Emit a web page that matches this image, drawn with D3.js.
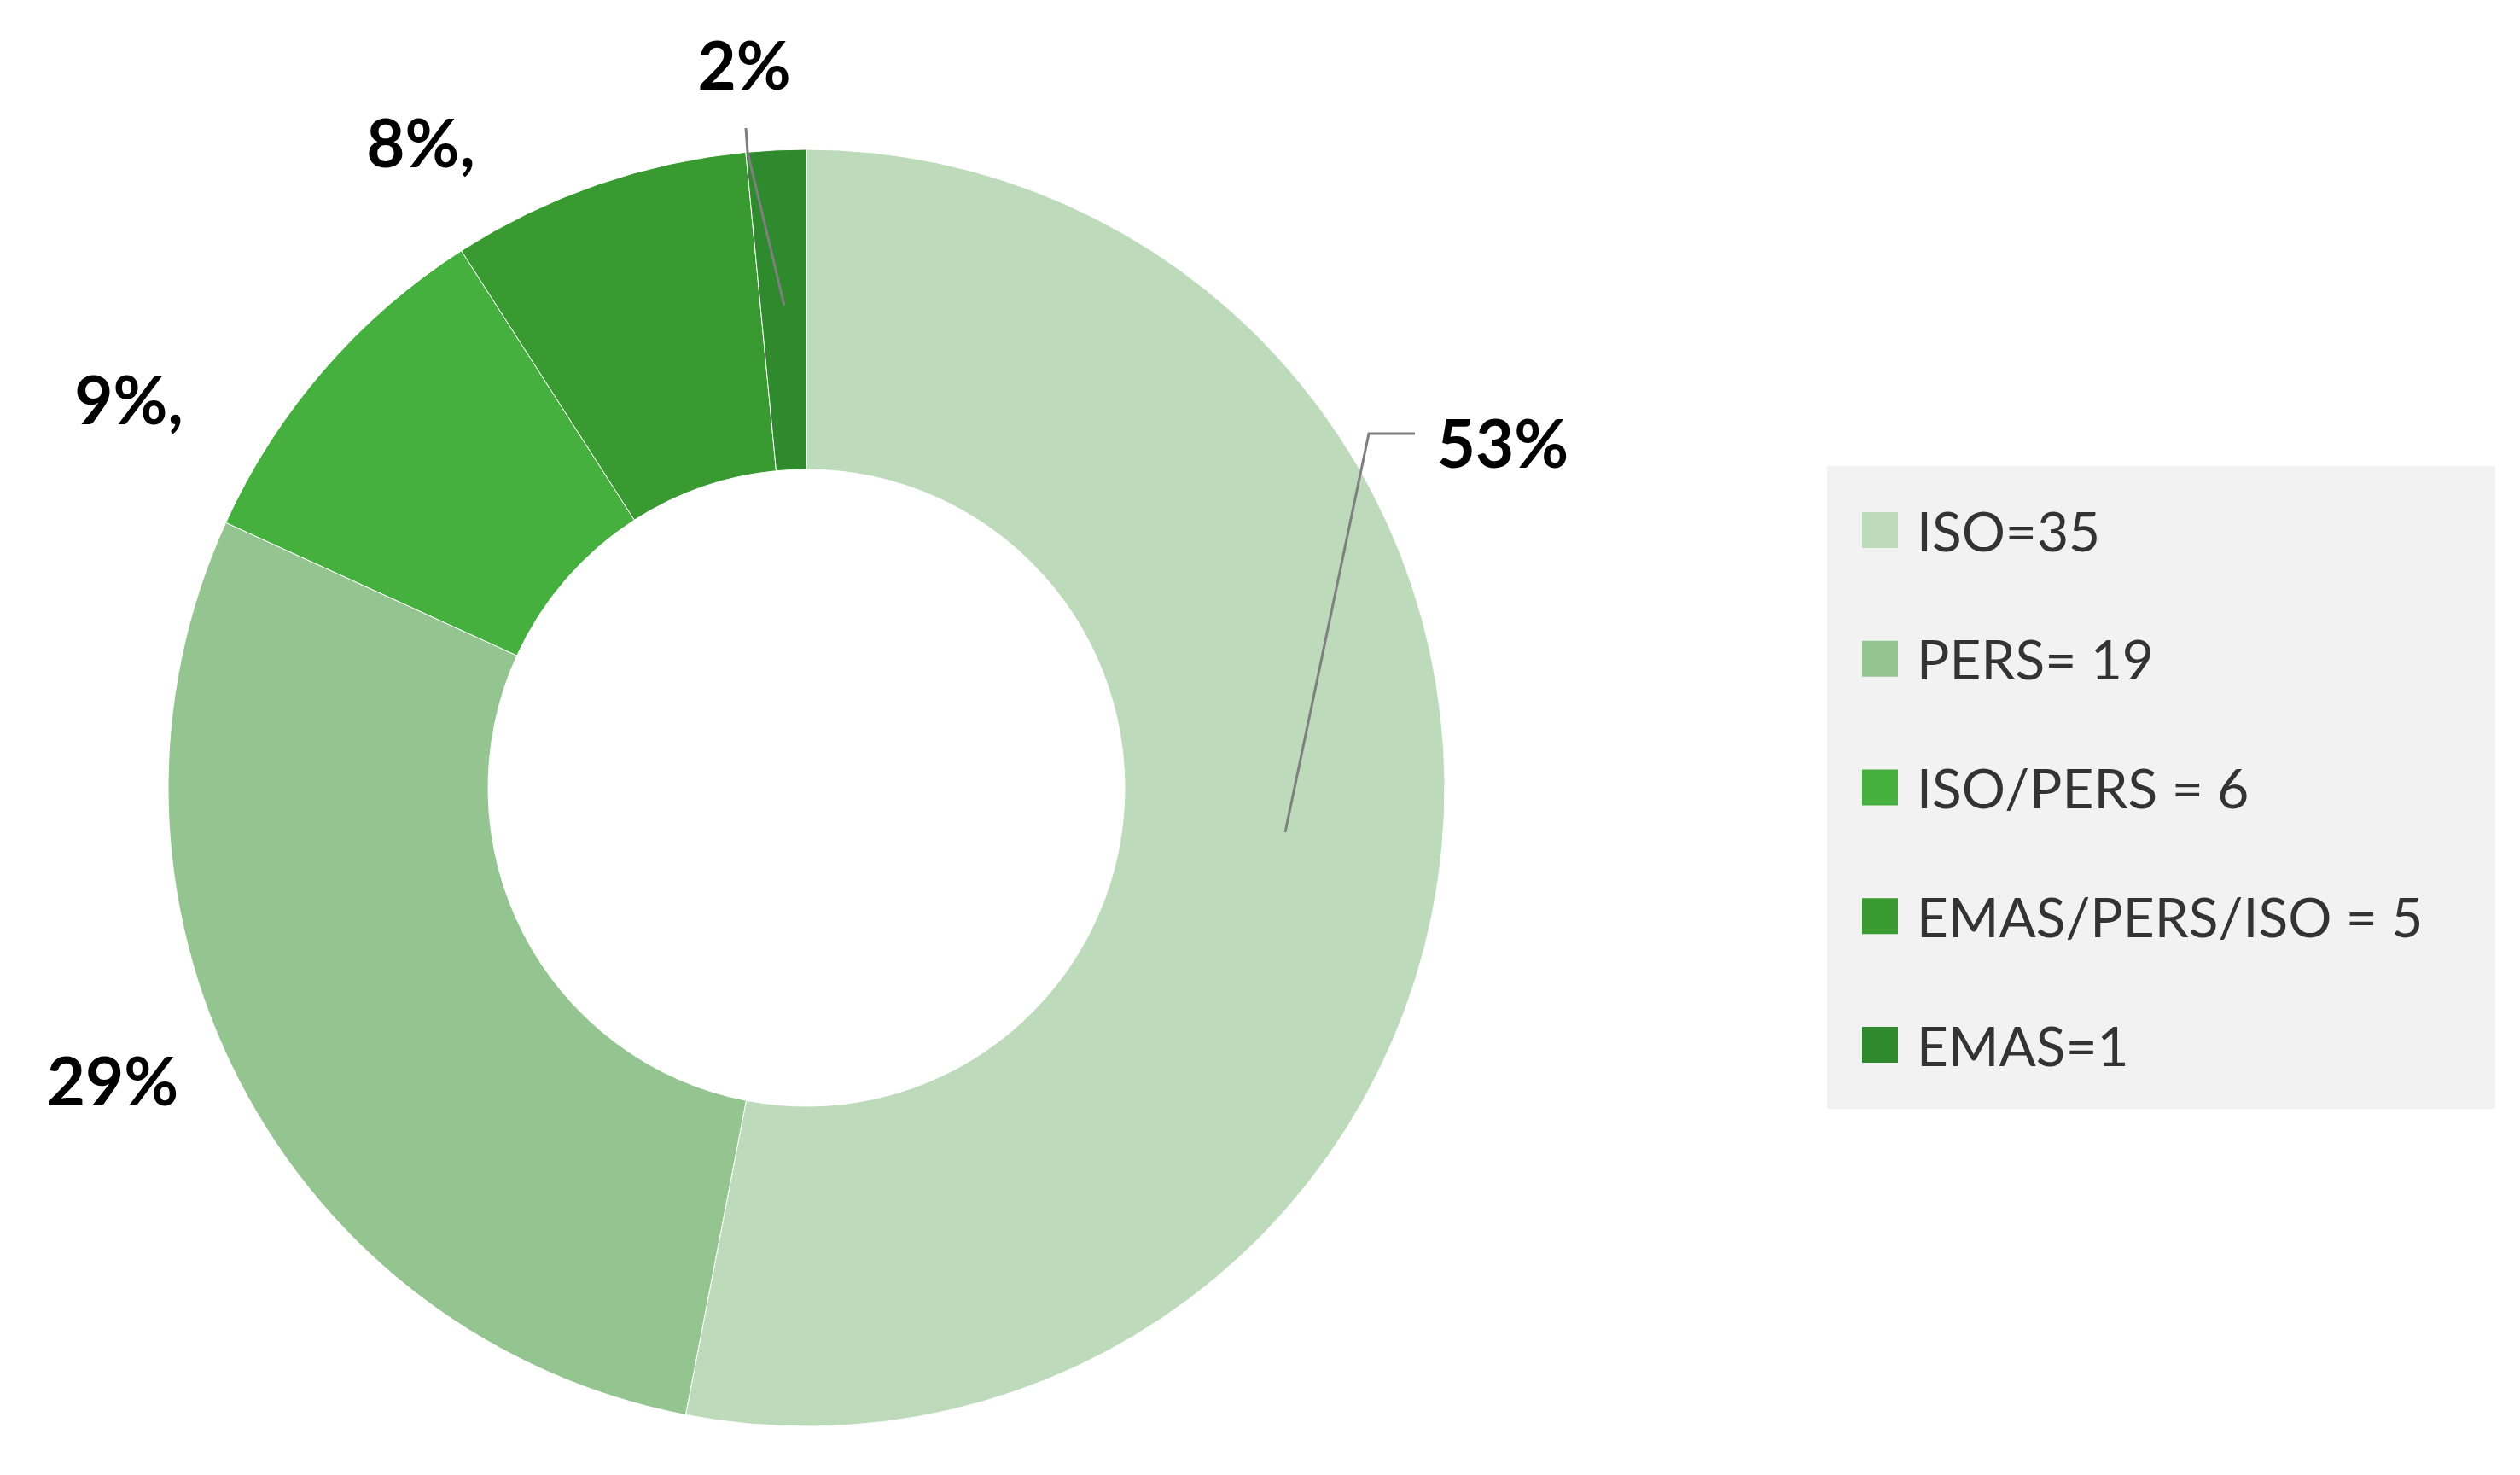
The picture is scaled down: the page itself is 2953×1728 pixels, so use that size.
<!DOCTYPE html>
<html><head><meta charset="utf-8">
<script src="https://cdn.jsdelivr.net/npm/d3@7"></script>
<style>body{margin:0;background:#fff}</style>
</head><body>
<script>
const categories = ["ISO=35","PERS= 19","ISO/PERS = 6","EMAS/PERS/ISO = 5","EMAS=1"];
const values = [35,19,6,5,1];
const labelSuffix = ["", "", ",", ",", ""];
const colors = ["#bddbbb","#94c590","#46b03e","#3a9a32","#2e8a2c"];

const W=2953,H=1728;
const svg=d3.select("body").append("svg").attr("width",W).attr("height",H);
const cx=945,cy=923,R=748,r=373;
const total=d3.sum(values);
const pie=d3.pie().sort(null).value(d=>d)(values);
const arc=d3.arc().innerRadius(r).outerRadius(R);
const g=svg.append("g").attr("transform",`translate(${cx},${cy})`);
g.selectAll("path").data(pie).join("path").attr("d",arc).attr("fill",(d,i)=>colors[i])
  .attr("stroke","#fff").attr("stroke-width",1);

// label layout (screen positions)
const lab=[{x:1761,y:518,a:"middle"},{x:132,y:1265,a:"middle"},{x:151,y:467,a:"middle"},{x:493,y:166,a:"middle"},{x:872,y:75,a:"middle"}];
svg.selectAll("text.pct").data(pie).join("text").attr("class","pct")
  .attr("x",(d,i)=>lab[i].x).attr("y",(d,i)=>lab[i].y).attr("text-anchor","middle")
  .attr("dominant-baseline","central")
  .attr("font-family","Lato, 'Open Sans', sans-serif").attr("font-weight","bold").attr("font-size",78)
  .attr("fill","#000").text((d,i)=>Math.round(d.value/total*100)+"%"+labelSuffix[i]);

// leader lines
svg.append("polyline").attr("points","1506,975 1604,508 1658,508").attr("fill","none").attr("stroke","#7f7f7f").attr("stroke-width",3);
svg.append("polyline").attr("points","919,358 876,178 874,150").attr("fill","none").attr("stroke","#7f7f7f").attr("stroke-width",3);

// legend
svg.append("rect").attr("x",2141).attr("y",546).attr("width",783).attr("height",753).attr("fill","#f2f2f2");
const ly=d3.scalePoint().domain(categories).range([621,1224]);
const lg=svg.selectAll("g.lg").data(categories).join("g").attr("transform",d=>`translate(2182,${ly(d)})`);
lg.append("rect").attr("x",0).attr("y",-21).attr("width",42).attr("height",42).attr("fill",(d,i)=>colors[i]);
lg.append("text").attr("x",64).attr("y",0).attr("dominant-baseline","central")
  .attr("font-family","Lato, 'Open Sans', sans-serif").attr("font-size",64).attr("fill","#333").text(d=>d);
</script>
</body></html>
